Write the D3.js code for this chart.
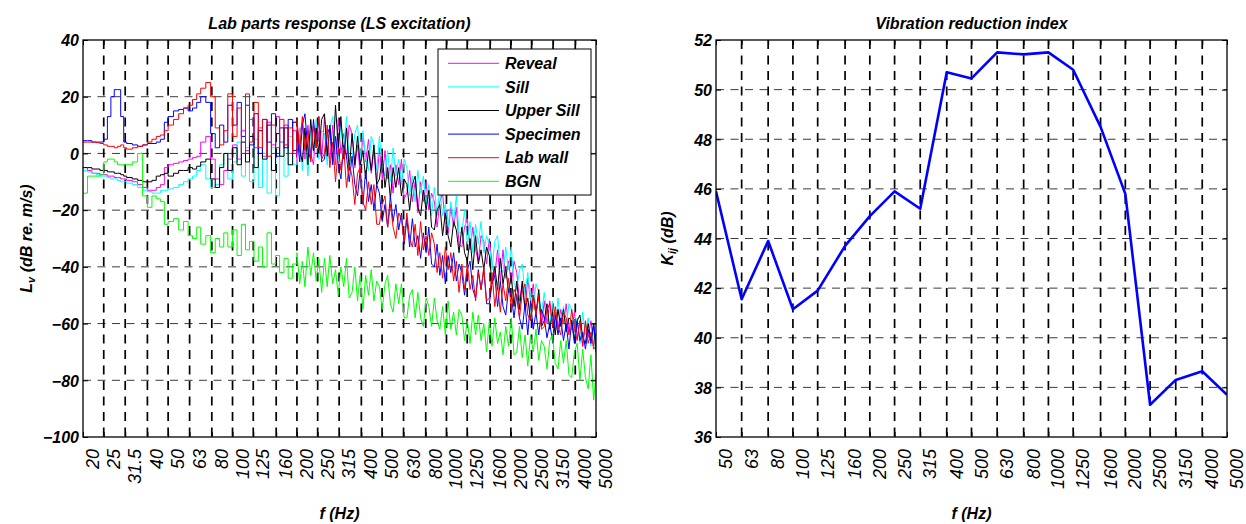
<!DOCTYPE html>
<html><head><meta charset="utf-8">
<script src="https://cdn.jsdelivr.net/npm/d3@7"></script>
<style>
body{margin:0;background:#fff}
text{font-family:"Liberation Sans",Arial,Helvetica,sans-serif}
</style>
</head><body>
<svg id="c" width="1246" height="524"></svg>
<script>
// ---------- Left chart data (narrow-band spectra, dB re. m/s) ----------
const freqHz = [20,21,22,23,24,25,26,27,28,29,30,31,
32,34,36,38,40,42,44,46,48,50,
53,56,59,62,65,68,71,75,79,83,87,91,95,
100,105,110,115,120,126,132,138,145,152,159,166,174,182,191,
200,206,212,218,225,232,239,246,253,261,
269,277,285,294,303,312,321,331,341,351,
362,373,384,395,407,419,432,445,458,472,
486,501,516,531,547,563,580,598,616,634,
653,673,693,714,735,757,780,803,827,852,
878,904,931,959,988,1018,1048,1080,1112,1145,
1180,1215,1252,1289,1328,1368,1409,1451,1495,1540,
1586,1633,1682,1733,1785,1838,1893,1950,2009,2069,
2131,2195,2261,2329,2399,2471,2545,2621,2700,2781,
2864,2950,3039,3130,3224,3321,3420,3523,3628,3737,
3849,3965,4084,4206,4332,4462,4596,4734,4876,5000];

const reveal = [-5,-6,-7,-7,-7.5,-7.5,-8,-8,-8.5,-8.5,-9,-9,
-9.5,-10,-11,-12,-13,-13,-12,-11,-5,-4,
-3.5,-3,-2.5,-2,-1.5,-1,4,6,-2,-9,-11,-6,-2,
3,-2,8,1,12,2,9,-1,11,3,13,4,10,0,8,
-4,7,11,-2,10,0,-4,10,7,-2,
13,2,-2,10,-4,12,0,7,-2,10,
7,-5,3,-7,7,-3,5,-7,1,-11,
2,-9,1,-9,-4,-14,-4,-11,-2,-16,
-14,-6,-17,-10,-21,-10,-17,-10,-20,-14,
-17,-26,-17,-14,-25,-28,-19,-26,-19,-32,
-33,-26,-23,-34,-26,-34,-38,-29,-31,-39,
-30,-39,-43,-34,-45,-34,-44,-38,-46,-38,
-42,-52,-46,-55,-44,-52,-46,-56,-50,-61,
-52,-60,-52,-59,-56,-62,-55,-60,-53,-63,
-62,-56,-65,-59,-68,-60,-65,-59,-68,-63];

const sill = [-6,-6.5,-7,-7.5,-8,-8,-8.5,-9,-9,-9.5,-10,-10,
-10.5,-11,-12,-13,-13.5,-14,-14,-13,-13,-12.5,
-12,-11,-10,-9,-8,-6,-4,-9,-12,-11,-4,0,-9,
-3,4,-8,2,-10,5,-12,0,-14,2,-15,4,-8,6,-4,
-4,9,-6,6,-8,8,0,12,-2,8,
7,-4,9,13,0,-2,11,2,13,-3,
-2,7,10,-2,8,-2,-6,6,3,-6,
6,-4,-8,1,-10,2,-8,-2,-11,-2,
-5,-15,-8,-17,-6,-14,-8,-18,-11,-22,
-12,-22,-12,-22,-18,-26,-17,-24,-15,-28,
-28,-20,-32,-24,-35,-25,-32,-24,-35,-29,
-32,-41,-31,-29,-40,-42,-33,-41,-33,-46,
-48,-41,-39,-50,-42,-51,-55,-46,-49,-57,
-49,-57,-61,-52,-62,-51,-60,-54,-62,-53,
-55,-65,-58,-67,-56,-64,-58,-68,-61,-72];

const upperSill = [-5,-5,-5.5,-5.5,-6,-6,-6.5,-6.5,-7,-7,-7.5,-8,
-8.5,-9,-9.5,-10,-10,-9.5,-8,-7.5,-7,-8,
-7,-6,-6,-5,-5.5,-4.5,-3,-2,-9,-12,-5,0,-6,
2,-4,4,-3,6,-5,8,-2,10,-6,7,-1,9,-4,11,
11,1,-3,9,-4,12,1,9,0,12,
14,-1,10,-3,17,2,13,-2,9,-6,
7,-4,6,-4,1,-9,1,-6,3,-11,
-9,-1,-12,-5,-16,-5,-12,-5,-15,-9,
-11,-20,-11,-8,-19,-22,-13,-20,-13,-26,
-27,-20,-18,-29,-21,-29,-33,-24,-27,-35,
-26,-35,-38,-30,-41,-29,-39,-34,-41,-33,
-36,-46,-40,-48,-37,-46,-40,-49,-43,-54,
-45,-55,-45,-55,-51,-59,-50,-57,-48,-61,
-59,-53,-62,-56,-64,-55,-61,-55,-63,-58,
-59,-66,-59,-57,-65,-67,-60,-66,-60,-70];

const specimen = [4.5,4.5,4,4,4,5,13,20,22.5,22.5,13,4,
3.5,3,2.5,3,3.5,3.5,4,5,11,13,
15,15.5,16,15,16,18,20,18,7,2,10,4,17,
10,18,6,17,3,14,0,12,4,14,-1,9,2,12,1,
8,-3,10,14,1,-2,12,2,13,-3,
-2,7,9,-4,6,-4,-9,3,-1,-10,
-1,-11,-15,-6,-18,-6,-17,-11,-20,-11,
-14,-24,-18,-26,-15,-24,-18,-27,-21,-32,
-23,-33,-23,-33,-29,-37,-28,-35,-26,-39,
-40,-32,-43,-36,-46,-36,-42,-35,-45,-39,
-42,-50,-41,-38,-48,-51,-41,-48,-41,-53,
-53,-46,-43,-54,-45,-54,-57,-48,-50,-58,
-50,-58,-62,-53,-64,-52,-62,-56,-64,-55,
-58,-65,-60,-66,-57,-64,-58,-66,-60,-69,
-59,-67,-59,-66,-63,-69,-62,-67,-60,-68];

const labWall = [4,4,4,3.8,3.5,3,2.5,2.5,2,2.5,3,2,
1.5,2,2.5,3,4,5,6,6.5,8,10,
12,14,16,17,19,21,23,25,20,9,3,8,21,
6,16,0,21,4,18,2,12,-1,10,2,12,3,9,0,
12,1,13,1,8,-3,10,2,13,-2,
0,10,-5,4,-10,2,-6,2,-12,-4,
-8,-18,-7,-5,-17,-20,-10,-18,-11,-25,
-25,-18,-15,-26,-18,-26,-30,-21,-23,-31,
-21,-30,-33,-25,-36,-24,-34,-29,-36,-28,
-32,-42,-35,-44,-33,-41,-35,-45,-38,-49,
-39,-48,-39,-48,-43,-52,-42,-48,-40,-52,
-51,-42,-54,-46,-56,-46,-52,-44,-55,-48,
-50,-58,-49,-46,-57,-59,-50,-57,-50,-62,
-61,-55,-53,-61,-54,-61,-64,-56,-58,-64,
-55,-62,-66,-59,-68,-59,-67,-63,-69,-68];

const bgn = [-14,-8,-8,-8,-7.5,-3,-2,-2,-3,-4,-4,-4,
-4,-3,0,-15,-19,-15,-16,-17,-25,-24,
-23,-27,-24,-29,-30,-26,-32,-29,-35,-30,-33,-28,-33,
-27,-36,-25,-34,-31,-38,-33,-40,-28,-39,-36,-42,-37,-44,-39,
-35,-46,-38,-47,-33,-43,-35,-45,-37,-49,
-37,-47,-36,-46,-41,-50,-40,-47,-37,-51,
-49,-40,-52,-43,-55,-43,-50,-41,-52,-45,
-47,-55,-46,-43,-53,-56,-46,-53,-46,-58,
-58,-50,-48,-58,-49,-58,-61,-51,-54,-61,
-51,-59,-62,-54,-64,-52,-62,-56,-64,-55,
-57,-66,-59,-67,-56,-64,-57,-66,-60,-70,
-59,-68,-58,-67,-63,-71,-61,-68,-58,-71,
-70,-61,-72,-64,-75,-64,-70,-62,-73,-66,
-68,-76,-66,-64,-74,-76,-66,-74,-66,-78,
-79,-70,-67,-80,-69,-79,-83,-71,-87,-78];

const seriesNames = ["Reveal","Sill","Upper Sill","Specimen","Lab wall","BGN"];
const seriesColors = ["#ff00ff","#00ffff","#000000","#0000ff","#ff0000","#00ff00"];
const seriesValues = [reveal, sill, upperSill, specimen, labWall, bgn];

const leftBands = [20,25,31.5,40,50,63,80,100,125,160,200,250,315,400,500,630,800,1000,1250,1600,2000,2500,3150,4000,5000];
const leftBandLabels = ["20","25","31.5","40","50","63","80","100","125","160","200","250","315","400","500","630","800","1000","1250","1600","2000","2500","3150","4000","5000"];
const leftYTicks = [40,20,0,-20,-40,-60,-80,-100];

// ---------- Right chart data (vibration reduction index) ----------
const kijBands = [50,63,80,100,125,160,200,250,315,400,500,630,800,1000,1250,1600,2000,2500,3150,4000,5000];
const kijLabels = ["50","63","80","100","125","160","200","250","315","400","500","630","800","1000","1250","1600","2000","2500","3150","4000","5000"];
const kijValues = [45.9,41.55,43.9,41.15,41.9,43.7,44.9,45.9,45.2,50.7,50.45,51.5,51.42,51.5,50.8,48.5,45.8,37.3,38.3,38.65,37.7];
const rightYTicks = [52,50,48,46,44,42,40,38,36];

// ---------- drawing ----------
const svg = d3.select("#c");
const BI = {"font-weight":"bold","font-style":"italic","font-size":"16px"};
function styl(sel, o){ for (const k in o) sel.style(k, o[k]); return sel; }

function panel(id, x, y, bands, labels, yTicks, title, yLabelMain, yLabelSub, yLabelRest, yLabelX, drawData) {
  const [xa, xb] = x.range();
  const yb = y.range()[0], ya = y.range()[1];
  const g = svg.append("g");
  const inner = bands.filter(b => b > x.domain()[0] && b < x.domain()[1]);
  const innerY = yTicks.filter(t => t > y.domain()[0] && t < y.domain()[1]);
  // grid
  g.append("g").selectAll("line").data(innerY).join("line")
    .attr("x1", xa).attr("x2", xb).attr("y1", d => y(d)).attr("y2", d => y(d))
    .attr("stroke", "#3a3a3a").attr("stroke-width", 1).attr("stroke-dasharray", "8,6.5");
  g.append("g").selectAll("line").data(inner).join("line")
    .attr("x1", d => x(d)).attr("x2", d => x(d)).attr("y1", ya).attr("y2", yb)
    .attr("stroke", "#000").attr("stroke-width", 1.7).attr("stroke-dasharray", "9,6.5");
  // clip + data
  svg.append("clipPath").attr("id", id).append("rect")
    .attr("x", xa).attr("y", ya).attr("width", xb - xa).attr("height", yb - ya);
  const dg = g.append("g").attr("clip-path", `url(#${id})`);
  drawData(dg);
  // axes (inner ticks)
  const ax = d3.axisBottom(x).tickValues(bands).tickFormat((d, i) => labels[i]).tickSize(-5).tickSizeOuter(0);
  const axG = g.append("g").attr("transform", `translate(0,${yb})`).call(ax);
  axG.select(".domain").remove();
  axG.selectAll("line").attr("stroke", "#000");
  axG.selectAll("text").attr("x", null).attr("y", null).attr("dy", null)
    .attr("text-anchor", "end").attr("transform", "translate(15.5,12) rotate(-90)")
    .attr("fill", "#000").style("font-size", "18px").style("font-style", "italic").style("font-family", '"Liberation Sans",Arial,sans-serif');
  const axT = g.append("g").attr("transform", `translate(0,${ya})`)
    .call(d3.axisTop(x).tickValues(bands).tickFormat("").tickSize(-5).tickSizeOuter(0));
  axT.select(".domain").remove(); axT.selectAll("line").attr("stroke", "#000");
  const ay = g.append("g").attr("transform", `translate(${xa},0)`)
    .call(d3.axisLeft(y).tickValues(yTicks).tickSize(-5).tickPadding(4).tickSizeOuter(0));
  ay.select(".domain").remove(); ay.selectAll("line").attr("stroke", "#000");
  const yt = ay.selectAll("text").attr("fill", "#000").attr("dy", "0.36em");
  styl(yt, BI); yt.style("font-family", '"Liberation Sans",Arial,sans-serif');
  const ayR = g.append("g").attr("transform", `translate(${xb},0)`)
    .call(d3.axisRight(y).tickValues(yTicks).tickFormat("").tickSize(-5).tickSizeOuter(0));
  ayR.select(".domain").remove(); ayR.selectAll("line").attr("stroke", "#000");
  // box
  g.append("rect").attr("x", xa).attr("y", ya).attr("width", xb - xa).attr("height", yb - ya)
    .attr("fill", "none").attr("stroke", "#000").attr("stroke-width", 1.3);
  // titles
  const cx = (xa + xb) / 2;
  styl(g.append("text").attr("x", cx).attr("y", 29).attr("text-anchor", "middle").text(title), BI);
  styl(g.append("text").attr("x", cx).attr("y", 519).attr("text-anchor", "middle").text("f (Hz)"), BI);
  const yl = g.append("text").attr("transform", `translate(${yLabelX},${(ya + yb) / 2}) rotate(-90)`)
    .attr("text-anchor", "middle");
  styl(yl, BI);
  yl.append("tspan").text(yLabelMain);
  yl.append("tspan").attr("baseline-shift", "-25%").style("font-size", "11px").text(yLabelSub);
  yl.append("tspan").text(yLabelRest);
  return g;
}

// Left chart
const xL = d3.scaleLog().domain([20, 5000]).range([83, 596]);
const yL = d3.scaleLinear().domain([-100, 40]).range([437, 40]);
const LOW_N = 50; // low-frequency part drawn as steps (coarse FFT bins on log axis)
panel("clipL", xL, yL, leftBands, leftBandLabels, leftYTicks, "Lab parts response (LS excitation)",
  "L", "v", " (dB re. m/s)", 32, dg => {
    const stepLine = d3.line().x(d => xL(d[0])).y(d => yL(d[1])).curve(d3.curveStepAfter);
    const linLine = d3.line().x(d => xL(d[0])).y(d => yL(d[1]));
    seriesValues.forEach((vals, k) => {
      const pts = vals.map((v, i) => [freqHz[i], v]);
      dg.append("path").attr("d", stepLine(pts.slice(0, LOW_N + 1))).attr("fill", "none")
        .attr("stroke", seriesColors[k]).attr("stroke-width", 1);
      dg.append("path").attr("d", linLine(pts.slice(LOW_N))).attr("fill", "none")
        .attr("stroke", seriesColors[k]).attr("stroke-width", 1);
    });
  });

// legend
const lg = svg.append("g");
lg.append("rect").attr("x", 438).attr("y", 49).attr("width", 153).attr("height", 146)
  .attr("fill", "#fff").attr("stroke", "#000").attr("stroke-width", 1);
seriesNames.forEach((n, i) => {
  const yy = 63.3 + i * 23.6;
  lg.append("line").attr("x1", 448).attr("x2", 499).attr("y1", yy).attr("y2", yy)
    .attr("stroke", seriesColors[i]).attr("stroke-width", 1);
  styl(lg.append("text").attr("x", 505).attr("y", yy).attr("dy", "0.36em").text(n), BI);
});

// Right chart
const xR = d3.scaleLog().domain([50, 5000]).range([716, 1227]);
const yR = d3.scaleLinear().domain([36, 52]).range([437, 40]);
panel("clipR", xR, yR, kijBands, kijLabels, rightYTicks, "Vibration reduction index",
  "K", "ij", " (dB)", 673, dg => {
    const line = d3.line().x((d, i) => xR(kijBands[i])).y(d => yR(d));
    dg.append("path").attr("d", line(kijValues)).attr("fill", "none")
      .attr("stroke", "#0000ff").attr("stroke-width", 2.6).attr("stroke-linejoin", "round");
  });
</script>
</body></html>
